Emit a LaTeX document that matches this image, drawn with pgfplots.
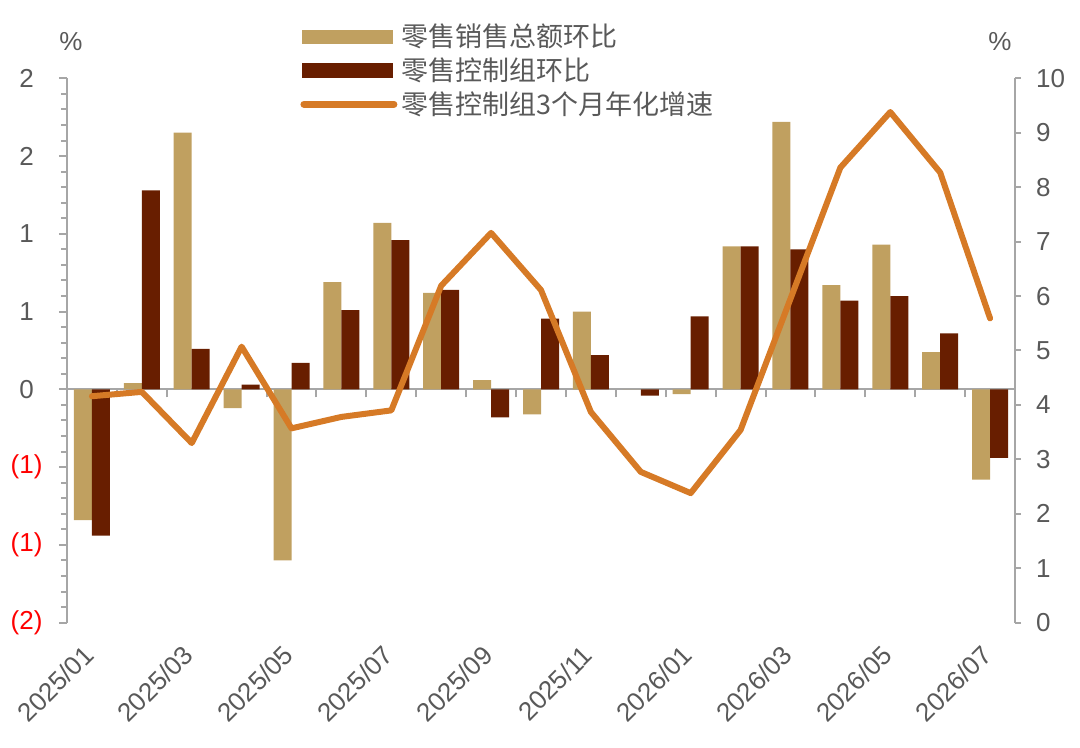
\documentclass[border=0pt]{standalone}
\usepackage{fontspec}
\setmainfont{Liberation Sans}
\newfontfamily\cjk{Noto Sans CJK SC}
\usepackage{pgfplots}
\usepackage{pgfplotstable}
\pgfplotsset{compat=1.18}
\definecolor{tanc}{HTML}{C0A060}
\definecolor{darkc}{HTML}{681E00}
\definecolor{orangec}{HTML}{D67A26}
\definecolor{axisgray}{HTML}{A6A6A6}
\definecolor{txtgray}{HTML}{595959}
\pgfplotstableread{
x tot ctrl ann
0 -0.84 -0.94 4.16
1 0.04 1.28 4.24
2 1.65 0.26 3.30
3 -0.12 0.03 5.07
4 -1.10 0.17 3.57
5 0.69 0.51 3.78
6 1.07 0.96 3.90
7 0.62 0.64 6.19
8 0.06 -0.18 7.16
9 -0.16 0.455 6.11
10 0.50 0.22 3.87
11 0.00 -0.04 2.77
12 -0.03 0.47 2.38
13 0.92 0.92 3.54
14 1.72 0.90 5.95
15 0.67 0.57 8.36
16 0.93 0.60 9.38
17 0.24 0.36 8.27
18 -0.58 -0.44 5.59
}\data
\begin{document}
\begin{tikzpicture}
\path[use as bounding box] (0,0) rectangle (540pt,374pt);
% bars axis (left)
\begin{axis}[
  at={(33.5pt,62.65pt)}, anchor=south west,
  width=474pt, height=272.2pt, scale only axis,
  xmin=-0.5, xmax=18.5, ymin=-1.5, ymax=2,
  axis y line*=left, axis x line*=middle,
  axis line style={-, axisgray, line width=1pt},
  every inner x axis line/.append style={-},
  xtick={0.5,1.5,...,17.5}, xticklabels={},
  ytick={-1.5,-1,-0.5,0,0.5,1,1.5,2},
  yticklabels={\textcolor{red}{(2)},\textcolor{red}{(1)},\textcolor{red}{(1)},0,1,1,2,2},
  minor y tick num=4,
  tick align=outside,
  major tick length=4pt, minor tick length=3pt,
  every tick/.style={axisgray, line width=1pt},
  yticklabel style={font=\fontsize{13}{15}\selectfont, text=txtgray, xshift=-8pt,
    text width=16pt, align=center, inner xsep=0pt},
  clip=false,
]
\addplot[ybar, bar width=9pt, bar shift=-4.5pt, fill=tanc, draw=none] table[x=x,y=tot]{\data};
\addplot[ybar, bar width=9pt, bar shift=4.5pt, fill=darkc, draw=none] table[x=x,y=ctrl]{\data};
\end{axis}
% line axis (right)
\begin{axis}[
  at={(33.5pt,62.65pt)}, anchor=south west,
  width=474pt, height=272.2pt, scale only axis,
  xmin=-0.5, xmax=18.5, ymin=0, ymax=10,
  axis y line*=right, axis x line*=bottom,
  x axis line style={draw=none},
  y axis line style={-, axisgray, line width=1pt},
  xtick={0,2,...,18},
  xticklabels={2025/01,2025/03,2025/05,2025/07,2025/09,2025/11,2026/01,2026/03,2026/05,2026/07},
  xtick style={draw=none},
  xticklabel style={xshift=-5pt, yshift=-2.5pt, rotate=45, anchor=north east, font=\fontsize{13}{15}\selectfont, text=txtgray},
  ytick={0,1,...,10},
  tick align=outside,
  major tick length=3pt,
  ytick style={axisgray, line width=1pt},
  yticklabel style={font=\fontsize{13}{15}\selectfont, text=txtgray, xshift=4pt},
  /pgf/number format/assume math mode=true,
  legend style={at={(0.2458,1.108)}, anchor=north west, draw=none, fill=none,
    font=\cjk\fontsize{13.5}{16.5}\selectfont, text=txtgray, inner sep=0pt, row sep=0pt},
  legend cell align=left,
  clip=false,
]
\addlegendimage{legend image code/.code={\fill[tanc] (0pt,-3.4pt) rectangle (45pt,3.4pt);}}
\addlegendentry{零售销售总额环比}
\addlegendimage{legend image code/.code={\fill[darkc] (0pt,-3.4pt) rectangle (45pt,3.4pt);}}
\addlegendentry{零售控制组环比}
\addplot[orangec, line width=3pt, line join=round, line cap=round,
  legend image code/.code={\draw[orangec, line width=3.5pt, line cap=round] (1pt,0pt) -- (46pt,0pt);}]
  table[x=x,y=ann]{\data};
\addlegendentry{零售控制组3个月年化增速}
\end{axis}
\node[text=txtgray, font=\fontsize{13}{15}\selectfont] at (35.5pt,353pt) {\%};
\node[text=txtgray, font=\fontsize{13}{15}\selectfont] at (500pt,353pt) {\%};
\end{tikzpicture}
\end{document}
